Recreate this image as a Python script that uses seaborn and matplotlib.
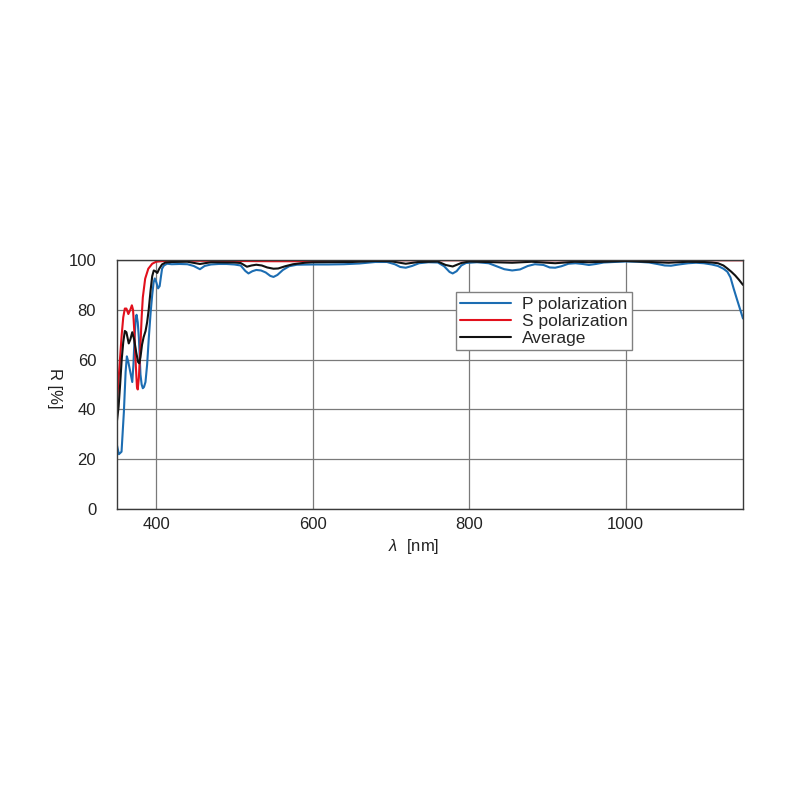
import numpy as np
import pandas as pd
import matplotlib
matplotlib.use("Agg")
import matplotlib.pyplot as plt
import seaborn as sns

# ---------------- data ----------------
p_nm = [350, 352.4, 355.8, 358.8, 361, 362.6, 364.5, 367, 369.5, 371, 372.4, 373.8, 375, 376.5,
        378, 380, 381.5, 383, 384.5, 386.4, 388.5, 390.6, 393, 395, 396.8, 398.3, 400.3, 402.5,
        404.5, 406, 407.6, 410, 414, 420, 430, 440, 448, 456, 462, 470, 480, 490, 500, 508, 514,
        518, 523, 528, 534, 540, 546, 550, 555, 562, 570, 580, 600, 620, 640, 660, 680, 695, 705,
        712, 719, 727, 736, 748, 760, 768, 775, 779, 784, 790, 796, 810, 825, 835, 845, 855, 865,
        875, 884, 895, 903, 910, 918, 927, 936, 945, 953, 962, 972, 985, 1000, 1015, 1030, 1042,
        1050, 1058, 1068, 1080, 1090, 1100, 1110, 1118, 1125, 1130, 1134, 1138, 1142, 1146, 1150]
p_val = [25.5, 22, 23, 39, 55, 61.3, 59, 55, 51, 58, 68.5, 76, 78, 75,
         68.5, 54, 50, 48.5, 49, 51, 58, 68.5, 79, 86, 91, 92.6, 91, 88.6,
         89.5, 93, 96.5, 97.8, 98.5, 98.3, 98.4, 98.3, 97.6, 96.3, 97.6, 98.2, 98.4, 98.4, 98.2, 97.8, 95.6,
         94.6, 95.5, 96, 95.8, 95, 93.6, 93.2, 94, 96, 97.5, 98.1, 98.2, 98.2, 98.3, 98.6, 99.2, 99.2, 98.3,
         97.2, 96.9, 97.6, 98.7, 99.1, 99, 97.5, 95.2, 94.6, 95.5, 97.8, 98.8, 99.1, 98.7, 97.5, 96.3, 95.8, 96.2,
         97.6, 98.3, 98, 97, 96.9, 97.5, 98.5, 98.7, 98.4, 98, 98.4, 99, 99.2, 99.4, 99.3, 99, 98.3,
         97.8, 97.7, 98.2, 98.7, 98.9, 98.7, 98.2, 97.6, 96.5, 95.3, 93, 88.6, 84.5, 80.5, 76.5]

s_nm = [350, 352, 354, 356, 358, 360, 362, 364.5, 367, 369, 370.5, 372, 374, 375.5, 376.5, 378,
        380, 381.5, 383, 386, 390, 395, 400, 410, 420, 450, 500, 550, 600, 620, 650, 700, 800,
        900, 1000, 1100, 1150]
s_val = [43, 52, 61, 70, 77, 80.5, 80.5, 78.3, 80, 81.8, 80, 72, 58, 49, 48, 53,
         66, 77, 85, 92.5, 96.5, 98.5, 99.3, 99.6, 99.7, 99.7, 99.6, 99.5, 99.5, 99.7, 99.9, 99.9, 99.9,
         99.9, 99.9, 99.9, 99.9]

a_nm = [350, 352, 354, 356, 358, 360, 362, 365, 367, 369.5, 372, 374.5, 377, 378.5, 380, 382,
        384, 386.5, 388.5, 390.5, 393, 395, 397, 399, 401.5, 404, 407.5, 412, 420, 440, 456, 470,
        500, 508, 516, 522, 528, 535, 542, 550, 556, 565, 575, 590, 600, 650, 680, 700, 719, 735,
        760, 770, 779, 790, 800, 855, 880, 910, 935, 953, 1000, 1055, 1080, 1100, 1110, 1118, 1125,
        1130, 1135, 1140, 1145, 1150]
a_val = [35.5, 41, 50, 60, 67, 71.5, 71, 66.5, 68, 71, 68, 63, 59, 58.5, 61, 66,
         69, 71.5, 75, 80, 88, 93.5, 95.8, 95.5, 94.8, 96.5, 98.2, 99, 99.2, 99.3, 98.4, 99.1,
         99, 98.8, 97.3, 97.8, 98.1, 97.8, 97, 96.5, 96.6, 97.5, 98.3, 98.9, 99.1, 99.2, 99.6, 99.5, 98.5, 99.2,
         99.4, 98, 97.4, 98.8, 99.4, 98.9, 99.3, 98.7, 99.3, 99.1, 99.6, 98.9, 99.3, 99.2, 99, 98.7, 97.8,
         96.6, 95.3, 93.8, 92, 90]

series_names = ["P polarization", "S polarization", "Average"]
series_colors = ["#1c6db2", "#e2101c", "#111111"]
x_ticks = [400, 600, 800, 1000]
y_ticks = [0, 20, 40, 60, 80, 100]

df = pd.concat([
    pd.DataFrame({"nm": p_nm, "R": p_val, "series": series_names[0]}),
    pd.DataFrame({"nm": s_nm, "R": s_val, "series": series_names[1]}),
    pd.DataFrame({"nm": a_nm, "R": a_val, "series": series_names[2]}),
], ignore_index=True)

# ---------------- style ----------------
sns.set_style("white")
plt.rcParams["font.family"] = ["Liberation Sans", "DejaVu Sans"]
plt.rcParams["mathtext.fontset"] = "custom"
plt.rcParams["mathtext.it"] = "Liberation Sans:italic"
plt.rcParams["mathtext.rm"] = "Liberation Sans"

fig = plt.figure(figsize=(8, 8), dpi=100)
ax = fig.add_axes([117 / 800, 1 - 509 / 800, 626 / 800, 249 / 800])

sns.lineplot(data=df, x="nm", y="R", hue="series", hue_order=series_names,
             palette=series_colors, estimator=None, linewidth=1.5, ax=ax, legend=False)

ax.set_xlim(350, 1150)
ax.set_ylim(0, 100)
ax.set_xticks(x_ticks)
ax.set_yticks(y_ticks)
ax.grid(True, color="#7a7a7a", linewidth=0.9)
ax.set_axisbelow(True)
for sp in ax.spines.values():
    sp.set_color("#3a3a3a")
    sp.set_linewidth(1.0)
ax.tick_params(axis="both", length=0, labelsize=12, colors="#222222")
ax.tick_params(axis="x", pad=6)
ax.tick_params(axis="y", pad=15)

ax.set_xlabel(r"$\lambda$  [nm]", fontsize=12, color="#222222", va="center")
ax.xaxis.set_label_coords(0.474, -0.151)
ax.set_ylabel("R [%]", fontsize=12, color="#222222", rotation=270, va="center", ha="center")
ax.yaxis.set_label_coords(-0.1006, 0.486)

handles = [plt.Line2D([], [], color=c, linewidth=1.5) for c in series_colors]
leg = ax.legend(handles, series_names, loc="upper left", bbox_to_anchor=(0.5415, 0.871),
                fontsize=12.5, frameon=True, fancybox=False, framealpha=1, edgecolor="#808080",
                borderpad=0.25, labelspacing=0.11, handlelength=2.9, handletextpad=0.65,
                borderaxespad=0)
leg.get_frame().set_linewidth(1.0)

fig.savefig("out.png", dpi=100)
